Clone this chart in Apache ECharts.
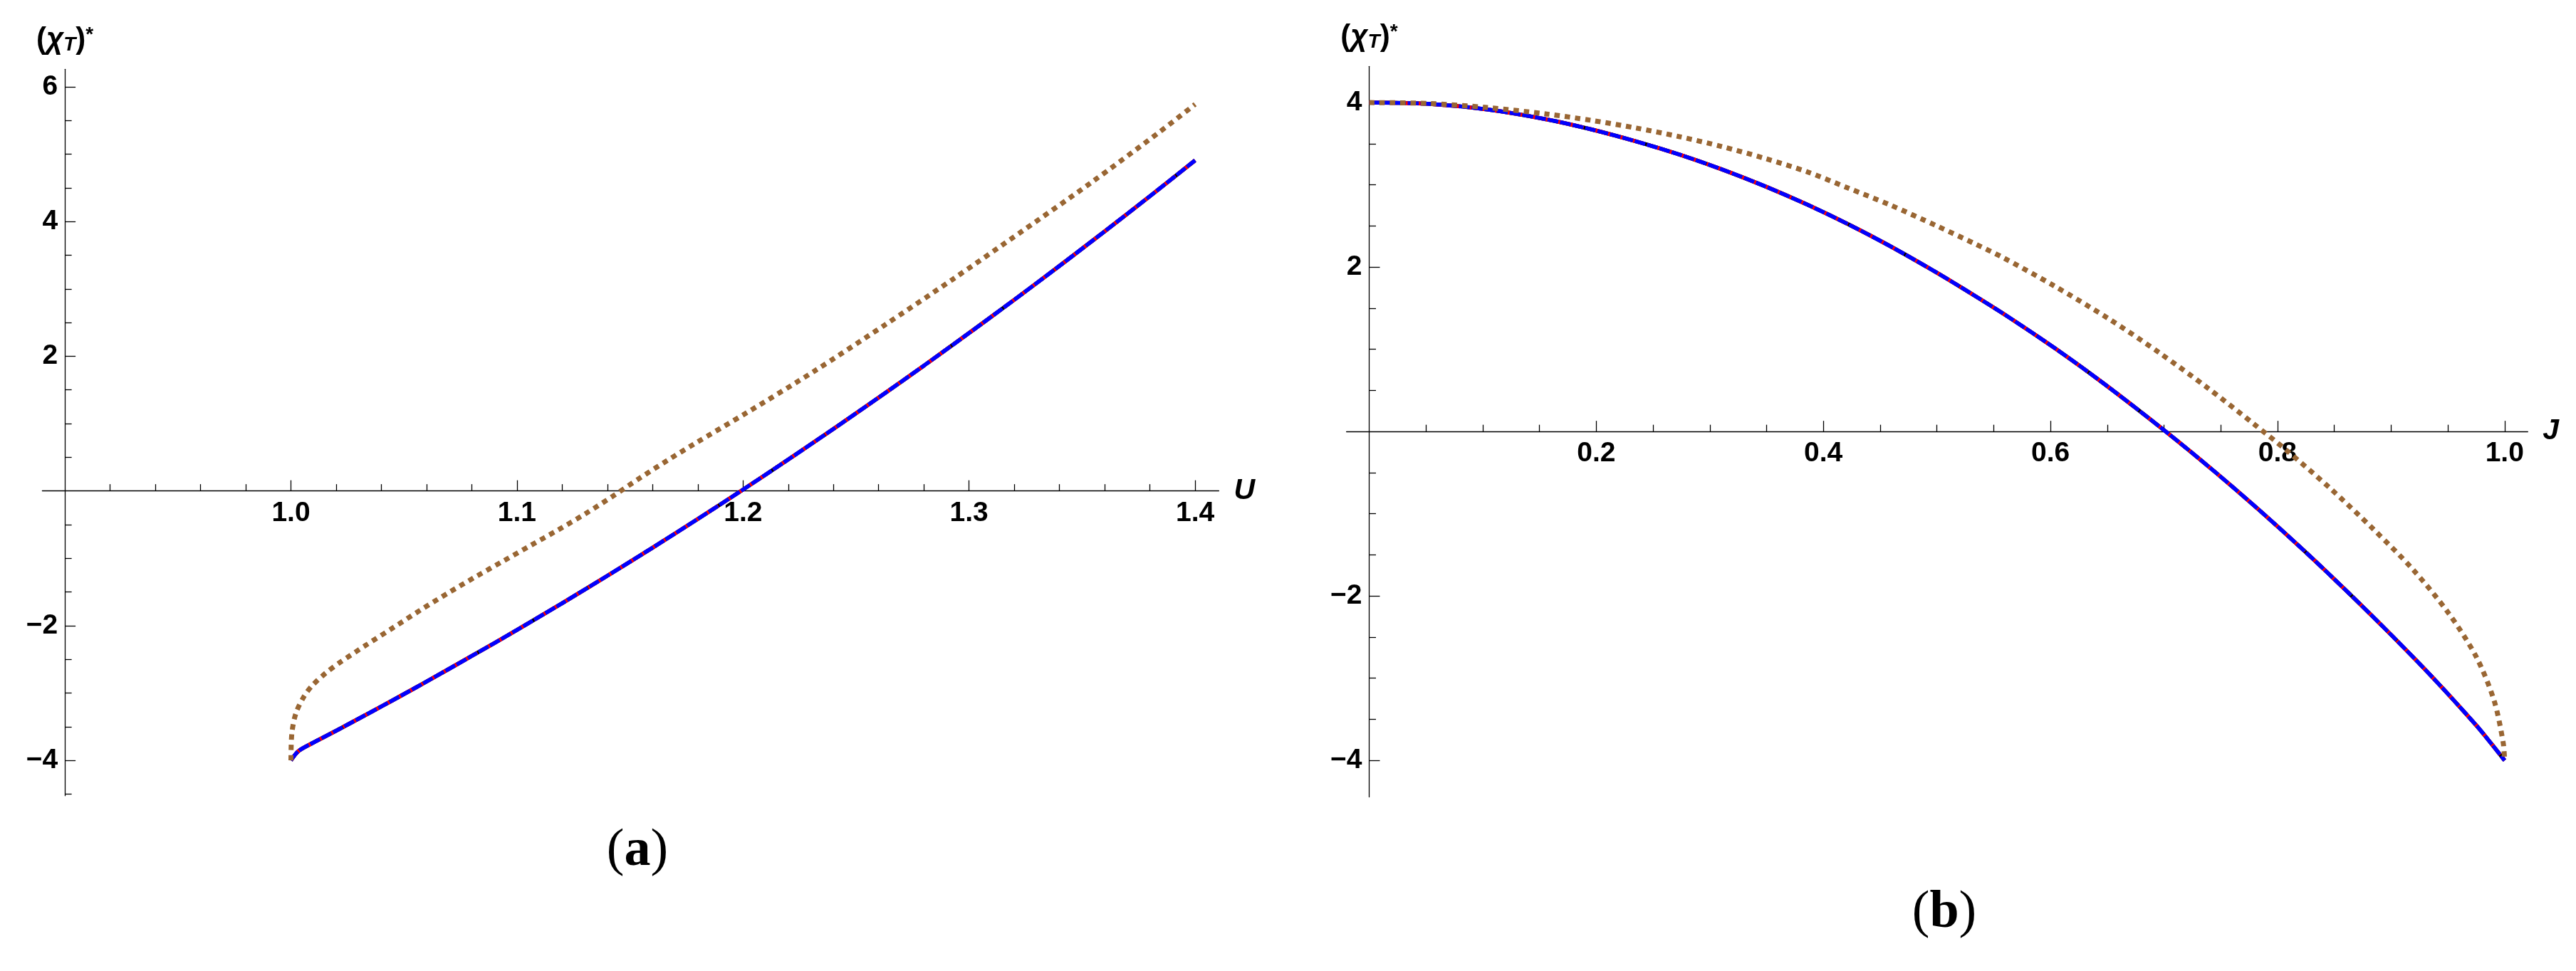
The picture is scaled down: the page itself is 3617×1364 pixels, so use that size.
<!DOCTYPE html>
<html>
<head>
<meta charset="utf-8">
<script src="https://cdn.jsdelivr.net/npm/echarts@6/dist/echarts.min.js"></script>
<style>
html,body{margin:0;padding:0;background:#ffffff;}
#chart{width:3617px;height:1364px;}
</style>
</head>
<body>
<div id="chart"></div>
<script>
// ===== Panel (a): (chi_T)* versus U =====
const aExactU = [1.0, 1.0034, 1.0094, 1.02, 1.03, 1.04, 1.05, 1.06, 1.08, 1.10, 1.12, 1.14, 1.16, 1.18, 1.20, 1.22, 1.24, 1.26, 1.28, 1.30, 1.32, 1.34, 1.36, 1.38, 1.40];
const aExactChi = [-4.0, -3.86, -3.745, -3.56, -3.38, -3.20, -3.016, -2.83, -2.45, -2.064, -1.666, -1.259, -0.842, -0.416, 0.02, 0.466, 0.921, 1.386, 1.86, 2.344, 2.838, 3.341, 3.854, 4.376, 4.908];
const aApproxU = [1.0, 1.0004, 1.0022, 1.0058, 1.0094, 1.0155, 1.0215, 1.0336, 1.0457, 1.0577, 1.0698, 1.0819, 1.094, 1.106, 1.1181, 1.1302, 1.1423, 1.1543, 1.1664, 1.1785, 1.2011, 1.2316, 1.2621, 1.2927, 1.3232, 1.3537, 1.3843, 1.4];
const aApproxChi = [-4.0, -3.60, -3.30, -3.05, -2.89, -2.70, -2.55, -2.28, -2.02, -1.76, -1.51, -1.27, -1.04, -0.81, -0.58, -0.34, -0.08, 0.19, 0.45, 0.70, 1.15, 1.78, 2.45, 3.14, 3.85, 4.57, 5.33, 5.74];
const aXMajor = [1.0, 1.1, 1.2, 1.3, 1.4];
const aXMinor = [0.92, 0.94, 0.96, 0.98, 1.02, 1.04, 1.06, 1.08, 1.12, 1.14, 1.16, 1.18, 1.22, 1.24, 1.26, 1.28, 1.32, 1.34, 1.36, 1.38];
const aYMajor = [-4, -2, 2, 4, 6];
const aYMinor = [-4.5, -3.5, -3, -2.5, -1.5, -1, -0.5, 0.5, 1, 1.5, 2.5, 3, 3.5, 4.5, 5, 5.5];

// ===== Panel (b): (chi_T)* versus J =====
const bExactJ = [0, 0.0515, 0.104, 0.1564, 0.1957, 0.2351, 0.2728, 0.3105, 0.3482, 0.386, 0.422, 0.4574, 0.4925, 0.5158, 0.561, 0.6063, 0.648, 0.7009, 0.7437, 0.7837, 0.8237, 0.862, 0.9003, 0.9386, 0.975, 0.989, 1.0];
const bExactChi = [4.0, 3.985, 3.917, 3.796, 3.674, 3.528, 3.37, 3.189, 2.985, 2.758, 2.52, 2.265, 1.991, 1.80, 1.411, 0.99, 0.573, 0.007, -0.477, -0.953, -1.453, -1.955, -2.476, -3.02, -3.573, -3.808, -4.0];
const bApproxJ = [0, 0.0515, 0.104, 0.1564, 0.1957, 0.2351, 0.2728, 0.3105, 0.3482, 0.386, 0.422, 0.458, 0.50, 0.5332, 0.5576, 0.6028, 0.6515, 0.6967, 0.7385, 0.7802, 0.808, 0.8463, 0.8846, 0.9194, 0.9507, 0.975, 0.9907, 0.9987, 1.0];
const bApproxChi = [4.0, 3.99, 3.94, 3.861, 3.784, 3.691, 3.587, 3.466, 3.323, 3.157, 2.96, 2.76, 2.50, 2.285, 2.12, 1.775, 1.37, 0.95, 0.53, 0.08, -0.23, -0.69, -1.19, -1.68, -2.21, -2.74, -3.27, -3.78, -4.0];
const bXMajor = [0.2, 0.4, 0.6, 0.8, 1.0];
const bXMinor = [0.05, 0.1, 0.15, 0.25, 0.3, 0.35, 0.45, 0.5, 0.55, 0.65, 0.7, 0.75, 0.85, 0.9, 0.95];
const bYMajor = [-4, -2, 2, 4];
const bYMinor = [-3.5, -3, -2.5, -1.5, -1, -0.5, 0.5, 1, 1.5, 2.5, 3, 3.5];

// ===== helpers =====
const W = 3617, H = 1364;
const zip = (xs, ys) => xs.map((x, i) => [x, ys[i]]);
const fmtNum = (v, d) => {
  const s = Math.abs(v).toFixed(d);
  return v < 0 ? '\u2212' + s : s;
};
const LABEL_FONT = { fontFamily: 'Liberation Sans', fontWeight: 'bold', fontSize: 39, color: '#000' };
const AXIS_COLOR = '#000';

const yName = '{p|(}{c|\u03c7}{s|T}{p|)}{u|*}';
const yNameRich = {
  p: { fontFamily: 'Liberation Sans', fontWeight: 'bold', fontSize: 42, color: '#000' },
  c: { fontFamily: 'Liberation Sans', fontWeight: 'bold', fontStyle: 'italic', fontSize: 42, color: '#000' },
  s: { fontFamily: 'Liberation Sans', fontWeight: 'bold', fontStyle: 'italic', fontSize: 28, color: '#000', verticalAlign: 'bottom' },
  u: { fontFamily: 'Liberation Sans', fontWeight: 'bold', fontSize: 28, color: '#000', verticalAlign: 'top' }
};

// layout of the two panels
const gA = { left: 59.4, right: 1905.6, top: 97.3, bottom: 246.2 };
const gB = { left: 1890.6, right: 67.7, top: 93.3, bottom: 244.5 };
const aXMin = 0.89, aXMax = 1.4105, aYMin = -4.525, aYMax = 6.26;
const bXMin = -0.02, bXMax = 1.0204, bYMin = -4.444, bYMax = 4.44;
const gw = g => W - g.left - g.right;
const gh = g => H - g.top - g.bottom;
const aYOffset = -(0.9 - aXMin) / (aXMax - aXMin) * gw(gA); // y-axis drawn at U = 0.9
// ECharts keeps labels of an on-zero axis at the grid edge; shift them back next to the line
const aZeroFromBottom = (0 - aYMin) / (aYMax - aYMin) * gh(gA);
const bZeroFromBottom = (0 - bYMin) / (bYMax - bYMin) * gh(gB);
const bZeroFromLeft = (0 - bXMin) / (bXMax - bXMin) * gw(gB);

function majorX(gridIndex, min, max, ticks, name, decimals, margin) {
  return {
    type: 'value', gridIndex, min, max, position: 'bottom',
    splitLine: { show: false },
    axisLine: { show: true, onZero: true, lineStyle: { color: AXIS_COLOR, width: 1.3 } },
    axisTick: { show: true, inside: true, length: 15, customValues: ticks, lineStyle: { color: AXIS_COLOR, width: 1.3 } },
    axisLabel: Object.assign({ show: true, margin, customValues: ticks, formatter: v => fmtNum(v, decimals) }, LABEL_FONT),
    name, nameLocation: 'end', nameGap: 21, nameMoveOverlap: false,
    nameTextStyle: { fontFamily: 'Liberation Sans', fontWeight: 'bold', fontStyle: 'italic', fontSize: 41, color: '#000', verticalAlign: 'middle' }
  };
}
function minorX(gridIndex, min, max, ticks) {
  return {
    type: 'value', gridIndex, min, max, position: 'bottom',
    splitLine: { show: false },
    axisLine: { show: false, onZero: true },
    axisTick: { show: true, inside: true, length: 9.5, customValues: ticks, lineStyle: { color: AXIS_COLOR, width: 1.3 } },
    axisLabel: { show: false }
  };
}
function majorY(gridIndex, min, max, ticks, offset, margin) {
  return {
    type: 'value', gridIndex, min, max, position: 'left', offset,
    splitLine: { show: false },
    axisLine: { show: true, onZero: true, lineStyle: { color: AXIS_COLOR, width: 1.3 } },
    axisTick: { show: true, inside: true, length: 15, customValues: ticks, lineStyle: { color: AXIS_COLOR, width: 1.3 } },
    axisLabel: Object.assign({ show: true, margin, customValues: ticks, formatter: v => fmtNum(v, 0) }, LABEL_FONT),
    name: yName, nameLocation: 'end', nameGap: 20, nameMoveOverlap: false,
    nameTextStyle: { rich: yNameRich }
  };
}
function minorY(gridIndex, min, max, ticks, offset) {
  return {
    type: 'value', gridIndex, min, max, position: 'left', offset,
    splitLine: { show: false },
    axisLine: { show: false, onZero: true },
    axisTick: { show: true, inside: true, length: 9.5, customValues: ticks, lineStyle: { color: AXIS_COLOR, width: 1.3 } },
    axisLabel: { show: false }
  };
}

function exactSeries(name, data, xi, yi) {
  return [
    { name: name + ' k', type: 'line', xAxisIndex: xi, yAxisIndex: yi, data, showSymbol: false, smooth: 0.3, silent: true,
      lineStyle: { color: '#000000', width: 5.5 }, z: 2 },
    { name: name + ' r', type: 'line', xAxisIndex: xi, yAxisIndex: yi, data, showSymbol: false, smooth: 0.3, silent: true,
      lineStyle: { color: '#ff0000', width: 5.5, type: [40, 4] }, z: 3 },
    { name: name + ' b', type: 'line', xAxisIndex: xi, yAxisIndex: yi, data, showSymbol: false, smooth: 0.3, silent: true,
      lineStyle: { color: '#0000ff', width: 5.5, type: [15.5, 2.5] }, z: 4 }
  ];
}
function approxSeries(name, data, xi, yi) {
  return { name, type: 'line', xAxisIndex: xi, yAxisIndex: yi, data, showSymbol: false, smooth: 0.3, silent: true,
    lineStyle: { color: '#996633', width: 7, type: [7.5, 7], cap: 'butt' }, z: 5 };
}

const chart = echarts.init(document.getElementById('chart'), null, { renderer: 'canvas' });
chart.setOption({
  backgroundColor: '#ffffff',
  animation: false,
  grid: [
    Object.assign({ containLabel: false, outerBoundsMode: 'none' }, gA),
    Object.assign({ containLabel: false, outerBoundsMode: 'none' }, gB)
  ],
  xAxis: [
    majorX(0, aXMin, aXMax, aXMajor, 'U', 1, 12 - aZeroFromBottom),
    minorX(0, aXMin, aXMax, aXMinor),
    majorX(1, bXMin, bXMax, bXMajor, 'J', 1, 12 - bZeroFromBottom),
    minorX(1, bXMin, bXMax, bXMinor)
  ],
  yAxis: [
    majorY(0, aYMin, aYMax, aYMajor, aYOffset, 10),
    minorY(0, aYMin, aYMax, aYMinor, aYOffset),
    majorY(1, bYMin, bYMax, bYMajor, 0, 10 - bZeroFromLeft),
    minorY(1, bYMin, bYMax, bYMinor, 0)
  ],
  series: [
    ...exactSeries('a exact', zip(aExactU, aExactChi), 0, 0),
    approxSeries('a approx', zip(aApproxU, aApproxChi), 0, 0),
    ...exactSeries('b exact', zip(bExactJ, bExactChi), 2, 2),
    approxSeries('b approx', zip(bApproxJ, bApproxChi), 2, 2)
  ],
  graphic: [
    { type: 'text', x: 895, y: 1196, silent: true,
      style: { text: '{p|(}{l|a}{p|)}', align: 'center', verticalAlign: 'middle',
        rich: { p: { fontFamily: 'Liberation Serif', fontSize: 74, color: '#000' },
                l: { fontFamily: 'Liberation Serif', fontWeight: 'bold', fontSize: 74, color: '#000' } } } },
    { type: 'text', x: 2730, y: 1283, silent: true,
      style: { text: '{p|(}{l|b}{p|)}', align: 'center', verticalAlign: 'middle',
        rich: { p: { fontFamily: 'Liberation Serif', fontSize: 74, color: '#000' },
                l: { fontFamily: 'Liberation Serif', fontWeight: 'bold', fontSize: 74, color: '#000' } } } }
  ]
});
</script>
</body>
</html>
